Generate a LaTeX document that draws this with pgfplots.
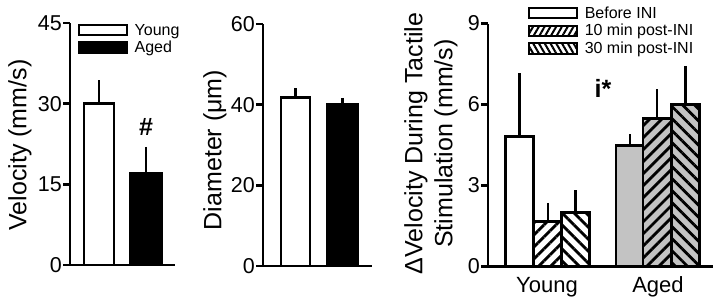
\documentclass[border=0pt]{standalone}
\usepackage{pgfplots}
\pgfplotsset{compat=1.18}
\usepackage{fontspec}
\setmainfont{Liberation Sans}
\usetikzlibrary{patterns.meta}
\definecolor{bargray}{RGB}{195,195,195}
\pgfplotsset{
  myax/.style={
    scale only axis, clip=false,
    axis lines=left, axis line style={line width=2.6pt, -},
    ymin=0,
    tick align=outside,
    major tick length=7pt,
    major tick style={line width=2.6pt, black},
    xtick=\empty,
    ticklabel style={font=\fontsize{21.5}{25}\selectfont},
    yticklabel style={inner xsep=1pt},
    /pgf/number format/assume math mode=true,
    ybar,
    every axis plot/.append style={bar shift=0pt, line width=2.6pt, draw=black,
      error bars/y dir=plus, error bars/y explicit,
      error bars/error bar style={line width=2.5pt, black},
      error bars/error mark options={line width=2.5pt, mark size=3.5pt, black}},
    legend style={draw=none, fill=none, anchor=north west, inner sep=0pt,
      row sep=0.5pt, column sep=4.5pt, font=\fontsize{16}{18}\selectfont},
    legend cell align=left,
  },
  legimg/.style={legend image code/.code={\draw[##1, line width=2pt] (0pt,-5.2pt) rectangle (48pt,5.2pt);}},
}
\begin{document}
\begin{tikzpicture}
% Panel 1
\begin{axis}[myax, at={(70pt,35pt)}, anchor=south west,
  width=105pt, height=242pt, xmin=70, xmax=175, ymax=45, ytick={0,15,30,45},
  legend style={at={(0.076,1.005)}}]
\addlegendimage{legimg, fill=white}
\addlegendentry{Young}
\addlegendimage{legimg, fill=black}
\addlegendentry{Aged}
\addplot[fill=white, bar width=30, forget plot] coordinates {(99,30) +- (0,3.7)};
\addplot[fill=black, bar width=31, forget plot] coordinates {(146,17) +- (0,4.3)};
\end{axis}
% Panel 2
\begin{axis}[myax, at={(263pt,34pt)}, anchor=south west,
  width=109pt, height=242pt, xmin=263, xmax=372, ymax=60, ytick={0,20,40,60}]
\addplot[fill=white, bar width=29, forget plot] coordinates {(295.5,41.8) +- (0,1.4)};
\addplot[fill=black, bar width=31, forget plot] coordinates {(342.5,40.1) +- (0,0.7)};
\end{axis}
% Panel 3
\begin{axis}[myax, at={(488pt,33.5pt)}, anchor=south west,
  width=225pt, height=243pt, xmin=488, xmax=713, ymax=9, ytick={0,3,6,9},
  xtick={547,658}, xticklabels={Young,Aged}, xtick style={draw=none},
  xticklabel style={font=\fontsize{22}{26}\selectfont},
  legend style={at={(0.178,1.078)}}]
\addlegendimage{legimg, fill=white}
\addlegendentry{Before INI}
\addlegendimage{legimg, fill=white, pattern={Lines[angle=60,distance=5pt,line width=2pt]}}
\addlegendentry{10 min post-INI}
\addlegendimage{legimg, fill=white, pattern={Lines[angle=-60,distance=5pt,line width=2pt]}}
\addlegendentry{30 min post-INI}
\addplot[fill=white, bar width=28, forget plot] coordinates {(519.5,4.82) +- (0,2.2)};
\addplot[pattern={Lines[angle=45,distance=8.5pt,line width=2.8pt]}, bar width=28, forget plot] coordinates {(548,1.67) +- (0,0.56)};
\addplot[pattern={Lines[angle=-45,distance=8.5pt,line width=2.8pt]}, bar width=28, forget plot] coordinates {(575.5,2.0) +- (0,0.7)};
\addplot[fill=bargray, bar width=28, forget plot] coordinates {(630,4.49) +- (0,0.27)};
\addplot[preaction={fill=bargray}, pattern={Lines[angle=45,distance=8.5pt,line width=2.8pt]}, bar width=28, forget plot] coordinates {(657,5.48) +- (0,0.95)};
\addplot[preaction={fill=bargray}, pattern={Lines[angle=-45,distance=8.5pt,line width=2.8pt]}, bar width=28, forget plot] coordinates {(685.5,6.0) +- (0,1.3)};
\end{axis}
% Labels and annotations
\node[rotate=90, font=\fontsize{25}{30}\selectfont] at (20pt,155pt) {Velocity (mm/s)};
\node[rotate=90, font=\fontsize{25}{30}\selectfont] at (215pt,150pt) {Diameter (μm)};
\node[rotate=90, align=center, font=\fontsize{25}{30}\selectfont] at (431pt,156.5pt) {ΔVelocity During Tactile\\Stimulation (mm/s)};
\node[font=\bfseries\fontsize{25}{30}\selectfont] at (146pt,173pt) {\#};
\node[font=\bfseries\fontsize{25}{30}\selectfont] at (603pt,212pt) {i*};
\pgfresetboundingbox
\path (0,0) rectangle (720pt,300pt);
\end{tikzpicture}
\end{document}
